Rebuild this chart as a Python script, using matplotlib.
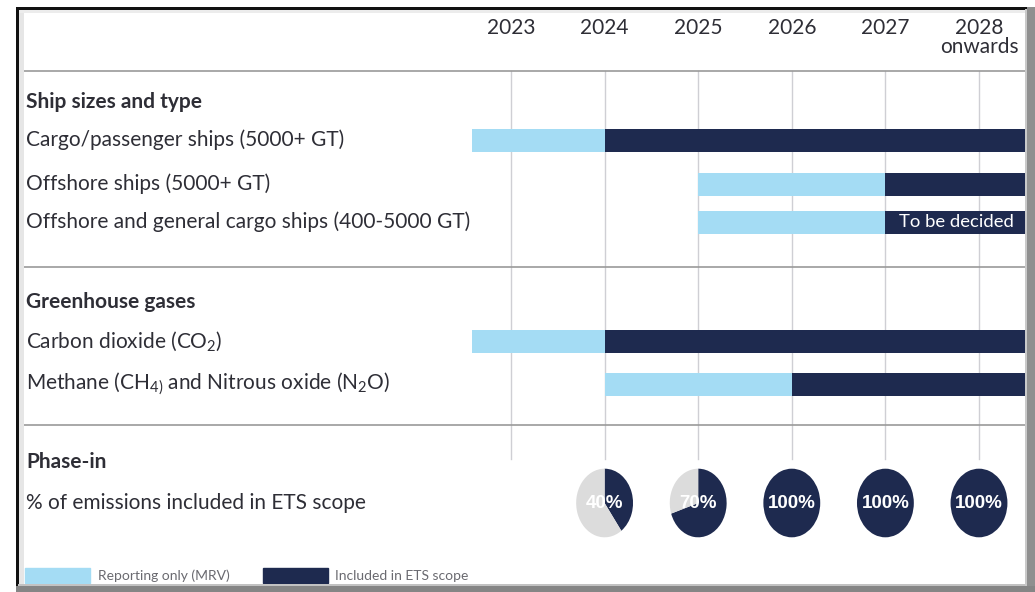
import matplotlib
matplotlib.use('Agg')
import matplotlib.pyplot as plt
from matplotlib.patches import Rectangle

plt.rcParams['font.family'] = ['Lato', 'DejaVu Sans']
plt.rcParams['mathtext.fontset'] = 'custom'
plt.rcParams['mathtext.rm'] = 'Lato'
plt.rcParams['mathtext.it'] = 'Lato'
plt.rcParams['mathtext.default'] = 'regular'

# ---------------- data ----------------
years = [2023, 2024, 2025, 2026, 2027, 2028]
year_labels = ['2023', '2024', '2025', '2026', '2027', '2028\nonwards']

ship_labels = ['Cargo/passenger ships (5000+ GT)',
               'Offshore ships (5000+ GT)',
               'Offshore and general cargo ships (400-5000 GT)']
ship_mrv_start = [2022.58, 2025, 2025]
ship_ets_start = [2024, 2027, 2027]
ship_ets_note = ['', '', 'To be decided']

gas_labels = ['Carbon dioxide (CO$_2$)',
              'Methane (CH$_{4)}$ and Nitrous oxide (N$_2$O)']
gas_mrv_start = [2022.58, 2024]
gas_ets_start = [2024, 2026]

phase_years = [2024, 2025, 2026, 2027, 2028]
phase_pct = [40, 70, 100, 100, 100]

legend_labels = ['Reporting only (MRV)', 'Included in ETS scope']

# ---------------- style ----------------
LIGHT = '#a4dcf4'
DARK = '#1e2a4f'
PIEGRAY = '#dcdcdc'
TEXT = '#2e2e36'
GRID = '#cfcfd4'
SEP = '#9a9a9a'

W, H = 1035, 592
fig = plt.figure(figsize=(W / 100, H / 100), dpi=100)
ax = fig.add_axes([0, 0, 1, 1])
px_per_year = 93.6
x0 = 2023 - 511 / px_per_year
x1 = 2023 + (W - 511) / px_per_year
ax.set_xlim(x0, x1)
ax.set_ylim(H, 0)
ax.axis('off')

# layout (rows in pixel units from top)
sep_rows = [71, 267, 425]
grid_top, grid_bot = 71, 459
ship_title_y = 102
ship_rows = [140, 184, 222]
gas_title_y = 302
gas_rows = [341, 384]
phase_title_y = 462
phase_row = 503
bar_h = 23
left_x = x0 + 26 / px_per_year
line_left = x0 + 23 / px_per_year

# grid
for yr in years:
    ax.plot([yr, yr], [grid_top, grid_bot], color=GRID, lw=1, zorder=1)
for sy in sep_rows:
    ax.plot([line_left, x1], [sy, sy], color=SEP, lw=1.2, zorder=1)

# header years
for yr, lab in zip(years, year_labels):
    ax.text(yr, 18, lab, ha='center', va='top', fontsize=15, color=TEXT,
            linespacing=0.92, zorder=5)

fs = 15


def draw_rows(labels, rows, mrv, ets, notes=None):
    for i, (lab, ry) in enumerate(zip(labels, rows)):
        ax.text(left_x, ry, lab, ha='left', va='center', fontsize=fs, color=TEXT)
        ax.barh(ry, ets[i] - mrv[i], left=mrv[i], height=bar_h, color=LIGHT,
                zorder=3)
        ax.barh(ry, x1 + 1 - ets[i], left=ets[i], height=bar_h, color=DARK,
                zorder=3)
        if notes and notes[i]:
            ax.text((ets[i] + x1 - 8 / px_per_year) / 2, ry, notes[i],
                    ha='center', va='center', fontsize=13.3, color='white',
                    zorder=4)


ax.text(left_x, ship_title_y, 'Ship sizes and type', ha='left', va='center',
        fontsize=fs, fontweight='bold', color=TEXT)
draw_rows(ship_labels, ship_rows, ship_mrv_start, ship_ets_start, ship_ets_note)

ax.text(left_x, gas_title_y, 'Greenhouse gases', ha='left', va='center',
        fontsize=fs, fontweight='bold', color=TEXT)
draw_rows(gas_labels, gas_rows, gas_mrv_start, gas_ets_start)

ax.text(left_x, phase_title_y, 'Phase-in', ha='left', va='center',
        fontsize=fs, fontweight='bold', color=TEXT)
ax.text(left_x, phase_row, '% of emissions included in ETS scope', ha='left',
        va='center', fontsize=fs, color=TEXT)

# legend
leg_y = 576
leg_specs = [(25, 90, 98, LIGHT), (263, 328, 335, DARK)]
for (a, b, t, c), lab in zip(leg_specs, legend_labels):
    ax.add_patch(Rectangle((x0 + a / px_per_year, leg_y - 8),
                           (b - a) / px_per_year, 15, color=c, zorder=3))
    ax.text(x0 + t / px_per_year, leg_y, lab, ha='left', va='center',
            fontsize=10, color='#6a6a70', zorder=3)

# pies
fig.canvas.draw()
rx, ry_ = 29, 35
for yr, pct in zip(phase_years, phase_pct):
    cx, cy = ax.transData.transform((yr, phase_row))
    pax = fig.add_axes([(cx - rx) / W, (cy - ry_) / H, 2 * rx / W, 2 * ry_ / H])
    vals = [pct, 100 - pct] if pct < 100 else [100]
    cols = [DARK, PIEGRAY] if pct < 100 else [DARK]
    pax.pie(vals, colors=cols, startangle=90, counterclock=False, radius=1,
            wedgeprops=dict(linewidth=0))
    pax.set_aspect('auto')
    pax.set_xlim(-1.02, 1.02)
    pax.set_ylim(-1.02, 1.02)
    pax.axis('off')
    pax.text(0, 0, f'{pct}%', ha='center', va='center', color='white',
             fontsize=13.5, fontweight='bold',
             family=['Liberation Sans', 'DejaVu Sans'])

# frame
T = ax.transAxes
def fr(x, y, w, h, c, z=10):
    ax.add_patch(Rectangle((x / W, 1 - (y + h) / H), w / W, h / H, color=c,
                           transform=T, zorder=z, lw=0))

fr(0, 0, W, 7, 'white')
fr(0, 0, 16, H, 'white')
fr(16, 7, 2.5, 581, '#111111')
fr(16, 7, 1013, 2.5, '#111111')
fr(18.5, 9.5, 5, 576, '#e6e6e6')
fr(18.5, 9.5, 1008, 3, '#ececec')
fr(1027, 7, 8, H - 7, '#8f8f8f', 11)
fr(1025, 9, 2, 577, '#c9c9c9', 11)
fr(16, 586, W - 16, 6, '#858585', 11)
fr(18, 584, 1007, 2, '#c2c2c2', 11)

fig.savefig('out.png', dpi=100)
